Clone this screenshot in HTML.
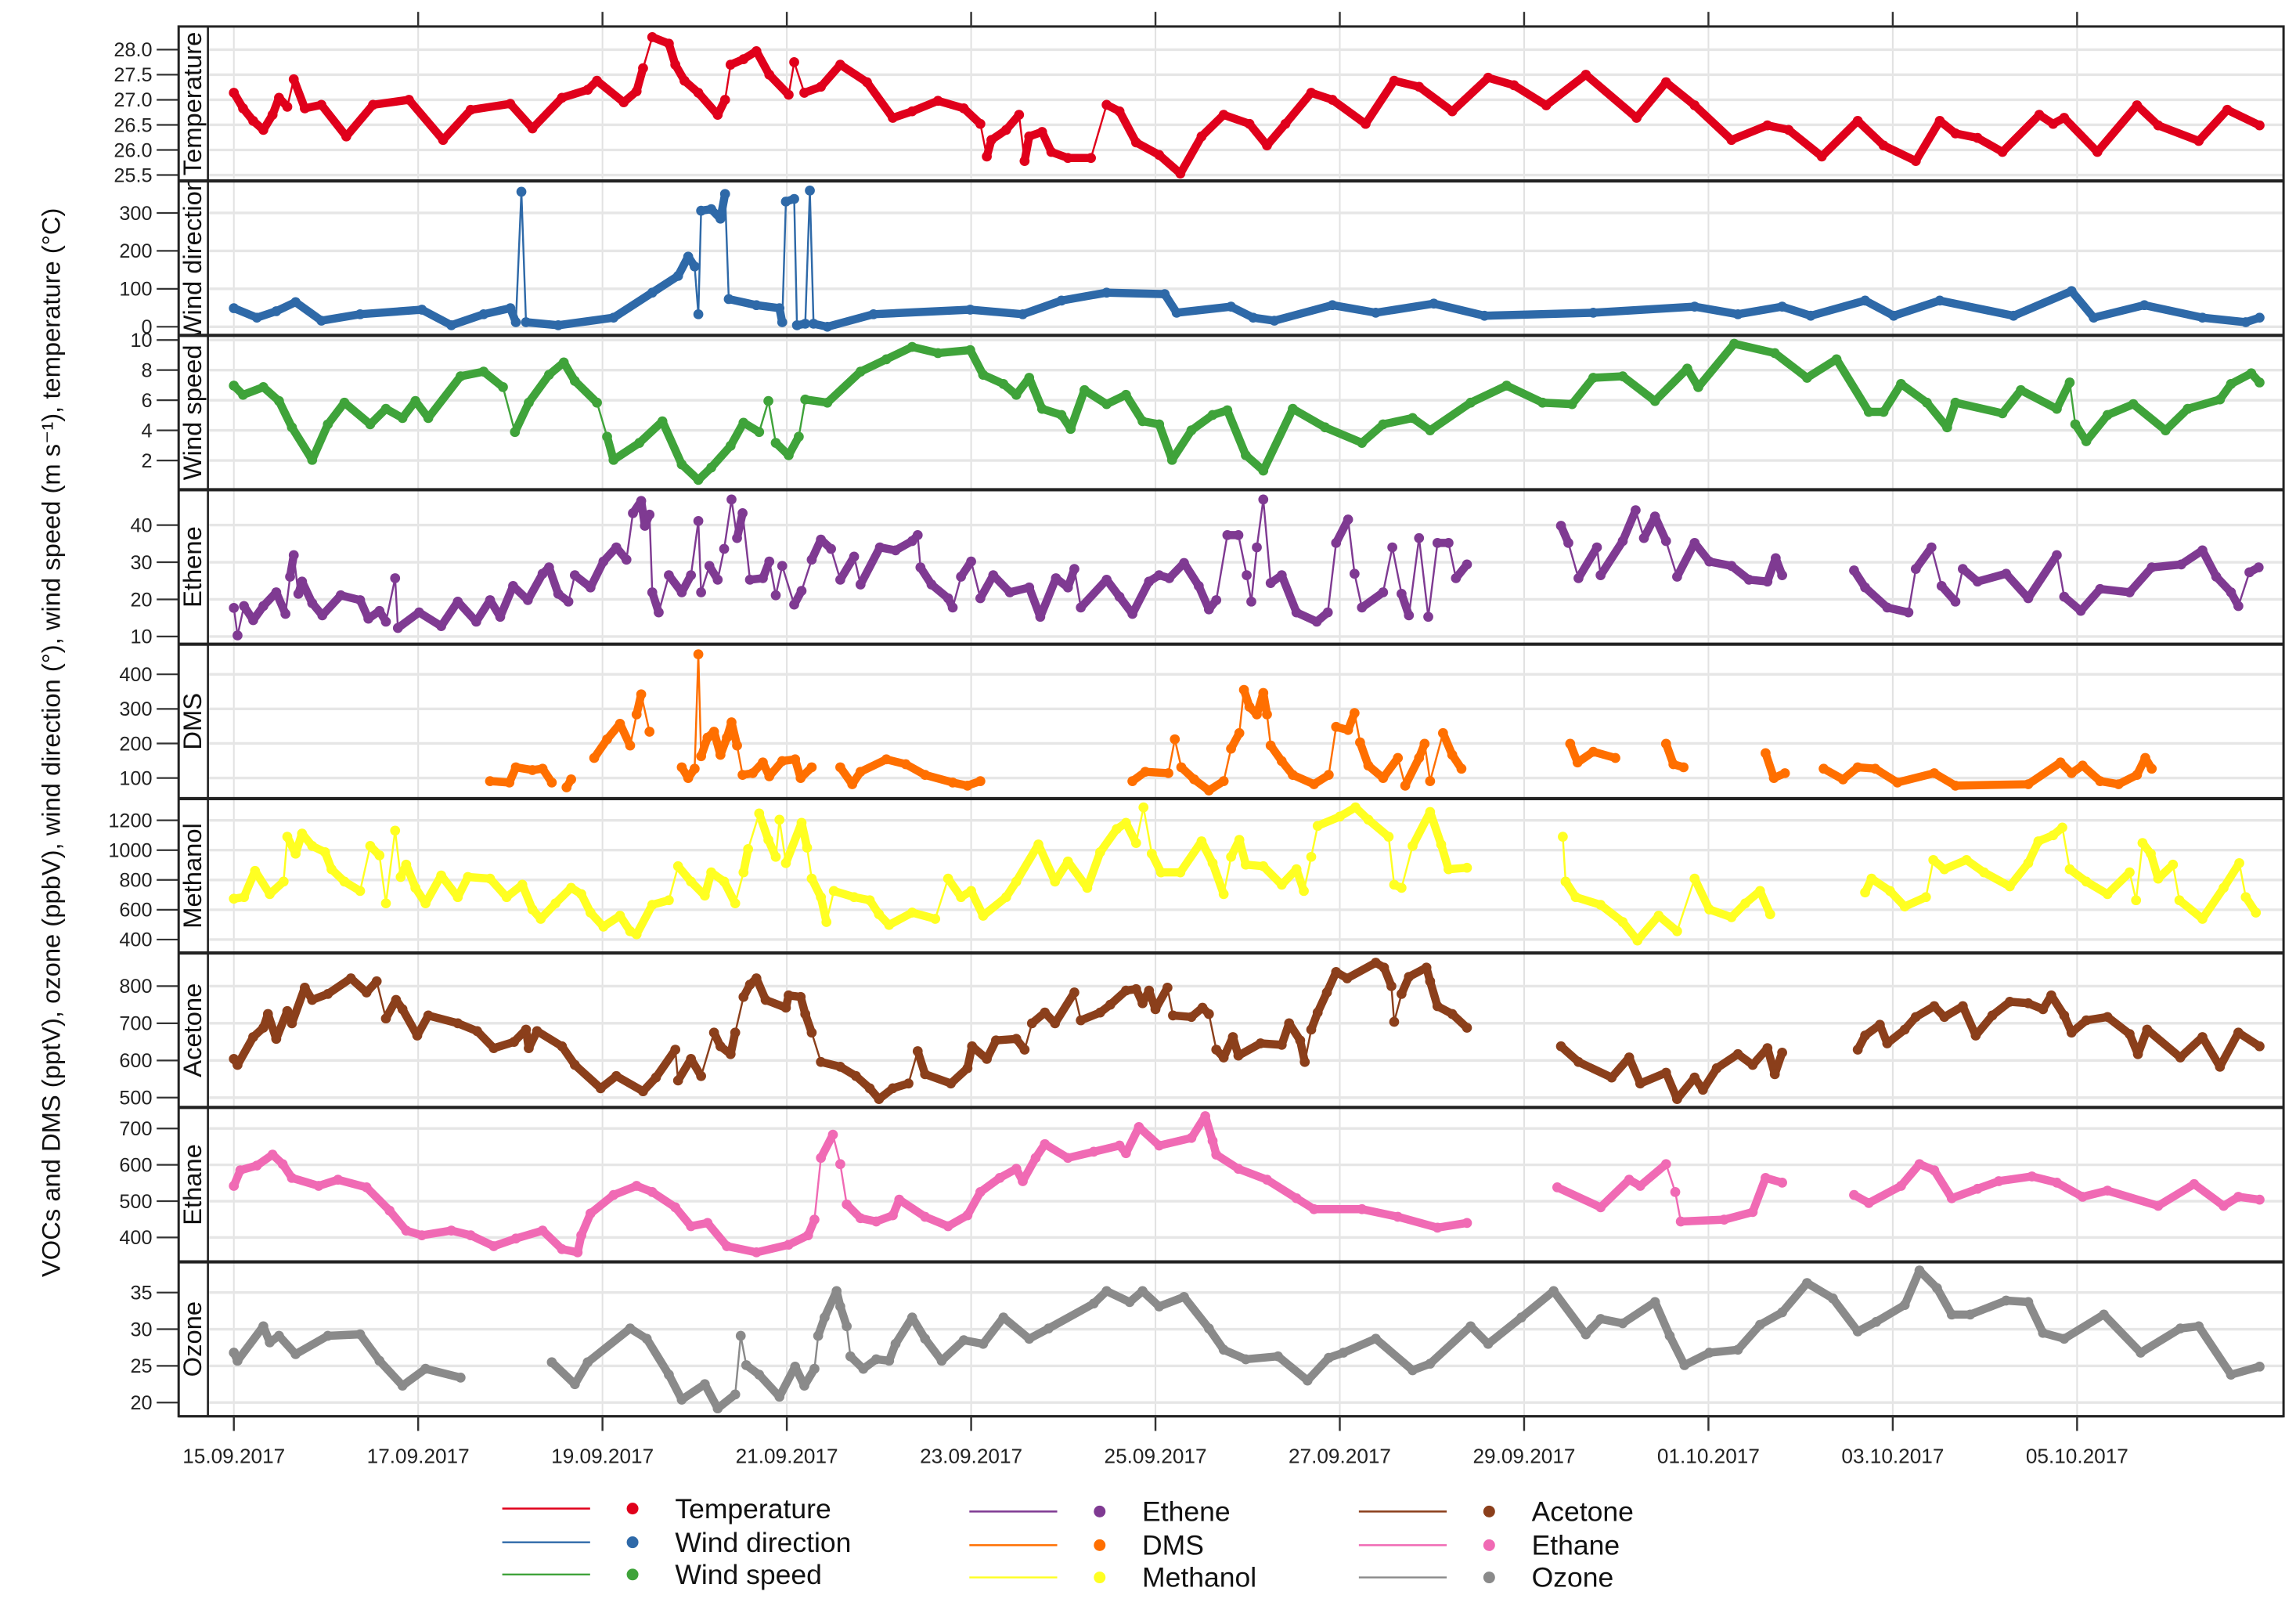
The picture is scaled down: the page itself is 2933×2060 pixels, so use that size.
<!DOCTYPE html>
<html><head><meta charset="utf-8"><style>
html,body{margin:0;padding:0;background:#fff}
svg{display:block}
text{font-family:"Liberation Sans",Arial,sans-serif}
</style></head><body>
<svg id="chart" xmlns="http://www.w3.org/2000/svg" width="2933" height="2060" viewBox="0 0 1568 1101.3" preserveAspectRatio="none">
<rect x="0" y="0" width="1568" height="1101.3" fill="#fff"/>
<text transform="translate(41,507) rotate(-90)" text-anchor="middle" font-size="17.5" fill="#111">VOCs and DMS (pptV), ozone (ppbV), wind direction (°), wind speed (m s⁻¹), temperature (°C)</text>
<g id="grid"></g><g id="marks"></g><g id="frame"></g><g id="legend"></g>
</svg>
<script>
// ---- data (day offset since 15.09.2017 00:00, value); null = gap ----
const dateLabels = ["15.09.2017","17.09.2017","19.09.2017","21.09.2017","23.09.2017","25.09.2017","27.09.2017","29.09.2017","01.10.2017","03.10.2017","05.10.2017"];
const dateTickDays = [0,2,4,6,8,10,12,14,16,18,20];

const tempDays = [0,0.1,0.21,0.32,0.42,0.49,0.58,0.65,0.77,0.95,1.22,1.51,1.9,2.27,2.57,3.0,3.24,3.56,3.84,3.94,4.23,4.37,4.44,4.54,4.72,4.79,4.89,5.04,5.25,5.33,5.39,5.53,5.67,5.81,6.02,6.08,6.19,6.37,6.58,6.87,7.15,7.36,7.64,7.92,8.1,8.17,8.22,8.38,8.52,8.58,8.63,8.77,8.87,9.05,9.3,9.47,9.61,9.79,10.04,10.27,10.5,10.74,11.02,11.21,11.41,11.69,11.92,12.28,12.59,12.86,13.22,13.61,13.89,14.24,14.67,15.22,15.54,15.85,16.25,16.64,16.87,17.23,17.62,17.9,18.25,18.51,18.68,18.92,19.19,19.59,19.74,19.86,20.22,20.65,20.88,21.32,21.63,21.98];
const tempVals = [27.14,26.83,26.58,26.4,26.7,27.04,26.86,27.41,26.83,26.9,26.27,26.9,27.0,26.2,26.8,26.92,26.43,27.04,27.2,27.38,26.95,27.17,27.63,28.25,28.12,27.7,27.38,27.14,26.7,27.0,27.7,27.81,27.97,27.5,27.1,27.75,27.14,27.26,27.7,27.35,26.64,26.77,26.98,26.83,26.52,25.87,26.2,26.4,26.7,25.78,26.27,26.36,25.96,25.84,25.84,26.9,26.77,26.15,25.9,25.53,26.27,26.7,26.52,26.09,26.52,27.14,27.0,26.52,27.38,27.26,26.77,27.44,27.29,26.89,27.5,26.64,27.35,26.89,26.2,26.49,26.4,25.87,26.58,26.09,25.78,26.58,26.33,26.24,25.96,26.7,26.52,26.64,25.96,26.89,26.49,26.18,26.8,26.49];

const wdDays = [0,0.25,0.46,0.67,0.95,1.37,2.04,2.36,2.71,3.0,3.06,3.12,3.17,3.52,4.12,4.54,4.82,4.93,5.0,5.04,5.07,5.18,5.28,5.33,5.37,5.67,5.92,5.95,5.99,6.08,6.11,6.2,6.25,6.29,6.44,6.94,7.99,8.56,8.98,9.47,10.1,10.23,10.82,11.06,11.29,11.92,12.39,13.02,13.57,14.75,15.85,16.32,16.8,17.11,17.7,18.01,18.51,19.31,19.94,20.18,20.73,21.36,21.83,21.98];
const wdVals = [49,24,41,65,16,33,45,4,33,49,12,356,12,4,24,90,134,185,159,33,306,310,285,350,73,57,49,12,330,337,4,8,359,8,0,33,45,33,69,90,86,37,53,24,16,57,37,61,29,37,53,33,53,29,69,29,69,29,94,24,57,24,12,24];

const wsDays = [0,0.1,0.32,0.49,0.63,0.85,1.02,1.2,1.48,1.65,1.83,1.97,2.11,2.46,2.71,2.92,3.05,3.2,3.42,3.58,3.7,3.94,4.05,4.12,4.4,4.65,4.86,5.04,5.18,5.39,5.53,5.7,5.8,5.88,6.02,6.13,6.2,6.44,6.8,7.08,7.36,7.64,7.99,8.13,8.35,8.49,8.63,8.77,8.98,9.08,9.23,9.47,9.68,9.86,10.04,10.18,10.39,10.62,10.78,10.98,11.17,11.49,11.84,12.24,12.47,12.79,12.98,13.42,13.81,14.2,14.52,14.75,15.07,15.42,15.77,15.89,16.28,16.72,17.07,17.39,17.74,17.9,18.09,18.37,18.59,18.68,19.19,19.39,19.78,19.92,19.98,20.1,20.33,20.61,20.96,21.2,21.55,21.67,21.89,21.98];
const wsVals = [6.97,6.36,6.87,5.95,4.2,2.04,4.4,5.84,4.4,5.43,4.82,5.95,4.82,7.59,7.9,6.87,3.89,5.84,7.69,8.51,7.28,5.84,3.58,2.04,3.17,4.6,1.74,0.71,1.53,2.97,4.51,3.89,5.95,3.17,2.35,3.58,6.05,5.84,7.9,8.72,9.54,9.13,9.33,7.69,7.08,6.36,7.49,5.43,5.02,4.1,6.67,5.74,6.36,4.61,4.4,2.04,4.0,5.02,5.33,2.35,1.33,5.43,4.2,3.17,4.4,4.82,4.0,5.84,6.97,5.84,5.74,7.49,7.59,5.95,8.1,6.87,9.75,9.13,7.49,8.72,5.23,5.23,7.08,5.84,4.2,5.84,5.13,6.67,5.43,7.18,4.4,3.28,5.02,5.74,4.0,5.43,6.05,7.08,7.79,7.18];

const etheneDays = [0,0.04,0.11,0.21,0.32,0.46,0.56,0.61,0.65,0.7,0.74,0.85,0.96,1.16,1.37,1.46,1.58,1.65,1.75,1.78,2.01,2.25,2.43,2.63,2.78,2.89,3.03,3.19,3.35,3.42,3.52,3.63,3.7,3.87,4.01,4.15,4.26,4.33,4.42,4.46,4.51,4.54,4.61,4.72,4.86,4.96,5.04,5.07,5.16,5.25,5.32,5.4,5.46,5.52,5.6,5.74,5.81,5.88,5.95,6.08,6.16,6.27,6.37,6.48,6.58,6.73,6.8,7.01,7.18,7.36,7.42,7.45,7.57,7.75,7.8,7.89,8.0,8.1,8.24,8.42,8.63,8.75,8.92,9.05,9.12,9.19,9.47,9.61,9.75,9.93,10.04,10.15,10.31,10.47,10.58,10.66,10.78,10.9,10.99,11.04,11.1,11.17,11.25,11.37,11.53,11.75,11.87,11.96,12.09,12.16,12.24,12.47,12.57,12.67,12.75,12.86,12.96,13.06,13.18,13.26,13.38,null,14.4,14.48,14.59,14.79,14.83,15.07,15.21,15.3,15.42,15.54,15.66,15.85,16.01,16.25,16.44,16.64,16.73,16.8,null,17.58,17.7,17.94,18.17,18.25,18.42,18.53,18.68,18.76,18.92,19.23,19.47,19.78,19.86,20.04,20.25,20.57,20.81,21.13,21.36,21.51,21.67,21.75,21.87,21.97];
const etheneVals = [17.7,10.3,18.2,14.4,18.2,21.9,16.1,26.1,31.9,21.5,24.8,19.0,15.7,21.1,19.8,14.8,16.9,14.0,25.7,12.3,16.5,12.8,19.4,14.0,19.8,15.3,23.6,19.8,26.9,28.6,21.5,19.4,26.5,23.2,30.2,34.0,30.7,43.2,46.5,39.8,42.8,21.9,16.5,26.5,21.9,26.5,41.1,21.9,29.0,25.3,33.6,46.9,36.5,43.2,25.3,25.7,30.2,21.1,29.0,18.6,22.3,30.7,36.1,33.6,25.3,31.5,24.0,34.0,33.2,35.7,37.3,28.6,24.0,20.3,17.8,26.1,30.2,20.3,26.5,21.9,23.2,15.3,25.7,23.2,28.2,17.8,25.3,20.7,16.1,24.8,26.5,25.7,29.8,23.6,17.3,19.8,37.3,37.3,26.5,19.4,34.0,46.9,24.4,26.5,16.5,14.0,16.5,35.2,41.5,26.9,17.8,21.9,34.0,21.5,15.7,36.5,15.3,35.2,35.2,25.7,29.4,null,39.8,35.2,25.7,34.0,26.5,35.7,44.0,36.5,42.3,35.7,26.1,35.2,30.2,29.0,25.3,24.8,31.1,26.5,null,27.8,23.2,17.8,16.5,28.2,34.0,23.6,19.4,28.2,24.8,26.9,20.3,31.9,20.7,16.9,22.8,21.9,28.6,29.4,33.2,26.1,21.9,18.2,27.3,28.6];

const dmsDays = [2.78,2.99,3.06,3.24,3.35,3.45,null,3.61,3.66,null,3.91,4.05,4.19,4.3,4.37,4.42,4.51,null,4.86,4.93,5.0,5.04,5.07,5.14,5.21,5.28,5.35,5.4,5.46,5.52,5.63,5.74,5.81,5.95,6.09,6.15,6.27,null,6.58,6.71,6.8,7.08,7.29,7.5,7.8,7.96,8.1,null,9.75,9.89,10.14,10.21,10.28,10.42,10.58,10.74,10.82,10.91,10.96,11.02,11.1,11.17,11.21,11.25,11.37,11.49,11.72,11.88,11.96,12.09,12.16,12.22,12.31,12.47,12.63,12.71,12.86,12.92,12.98,13.12,13.22,13.32,null,14.5,14.58,14.75,14.99,null,15.54,15.62,15.73,null,16.62,16.71,16.83,null,17.25,17.46,17.62,17.81,18.05,18.45,18.68,19.47,19.82,19.94,20.06,20.25,20.45,20.65,20.74,20.81];
const dmsVals = [91,87,131,123,127,87,null,73,96,null,158,212,257,194,284,342,234,null,131,100,127,458,163,217,234,167,217,261,194,109,114,145,105,149,154,100,131,null,131,82,118,154,140,109,87,78,91,null,91,118,114,212,131,96,64,91,185,230,355,306,284,346,284,194,149,109,82,109,248,239,288,203,136,100,158,78,158,199,91,230,167,127,null,199,145,176,158,null,199,140,131,null,172,100,114,null,127,96,131,127,87,114,78,82,145,114,136,91,82,109,158,127];

const methDays = [0,0.11,0.23,0.39,0.54,0.58,0.67,0.74,0.85,0.99,1.06,1.2,1.37,1.48,1.58,1.65,1.75,1.81,1.87,1.97,2.08,2.25,2.43,2.54,2.78,2.96,3.13,3.24,3.33,3.49,3.66,3.77,3.87,4.01,4.19,4.3,4.37,4.54,4.72,4.82,4.96,5.11,5.18,5.32,5.44,5.53,5.58,5.7,5.8,5.88,5.92,5.99,6.16,6.22,6.27,6.37,6.43,6.51,6.73,6.9,7.0,7.11,7.36,7.61,7.75,7.89,8.0,8.13,8.38,8.49,8.73,8.91,9.05,9.26,9.4,9.58,9.68,9.79,9.87,9.96,10.06,10.27,10.5,10.62,10.74,10.82,10.91,10.98,11.17,11.37,11.53,11.61,11.69,11.76,12.0,12.17,12.31,12.53,12.59,12.67,12.79,12.98,13.1,13.18,13.38,null,14.42,14.45,14.56,14.83,15.07,15.23,15.46,15.66,15.85,16.01,16.25,16.4,16.56,16.67,null,17.7,17.77,17.97,18.13,18.36,18.44,18.56,18.8,18.99,19.27,19.47,19.58,19.74,19.84,19.92,20.1,20.33,20.57,20.64,20.71,20.8,20.88,21.04,21.11,21.36,21.59,21.76,21.83,21.94];
const methVals = [674,685,861,705,789,1090,976,1111,1028,986,872,789,726,1028,965,643,1131,820,903,747,643,830,685,820,809,685,768,602,539,643,747,705,581,487,560,456,435,633,664,892,789,695,851,789,643,851,1007,1246,1069,955,1204,913,1183,1017,809,685,518,726,685,664,570,498,581,539,809,685,726,560,685,789,1038,789,924,747,986,1142,1183,1048,1287,976,851,851,1059,913,705,955,1069,903,892,768,872,726,955,1163,1225,1287,1204,1090,768,747,1028,1256,1038,872,882,null,1090,789,685,633,518,394,560,456,809,602,550,643,726,570,null,716,809,726,622,685,934,872,934,851,757,913,1059,1100,1152,872,789,705,851,664,1048,976,809,903,664,539,747,913,685,581];

const acetDays = [0,0.04,0.21,0.32,0.37,0.46,0.58,0.63,0.77,0.85,1.02,1.27,1.44,1.55,1.65,1.76,1.83,1.99,2.11,2.43,2.64,2.82,3.04,3.17,3.2,3.29,3.56,3.7,3.98,4.15,4.44,4.58,4.79,4.82,4.96,5.07,5.21,5.28,5.39,5.44,5.53,5.6,5.67,5.77,5.99,6.02,6.15,6.2,6.27,6.37,6.58,6.75,6.9,7.0,7.15,7.32,7.42,7.5,7.78,7.96,8.01,8.17,8.27,8.49,8.58,8.66,8.8,8.91,9.12,9.19,9.4,9.51,9.68,9.79,9.86,9.93,10.0,10.13,10.19,10.39,10.51,10.58,10.66,10.74,10.84,10.9,11.14,11.37,11.45,11.57,11.62,11.69,11.76,11.86,11.96,12.08,12.39,12.48,12.56,12.59,12.67,12.75,12.94,12.98,13.06,13.22,13.38,null,14.4,14.59,14.95,15.14,15.26,15.54,15.66,15.85,15.94,16.09,16.32,16.48,16.64,16.72,16.8,null,17.62,17.7,17.86,17.94,18.13,18.25,18.45,18.56,18.76,18.9,19.08,19.27,19.47,19.63,19.72,19.86,19.94,20.1,20.33,20.57,20.66,20.76,21.12,21.36,21.55,21.75,21.98];
const acetVals = [604,588,663,688,725,658,733,700,796,763,779,821,783,813,713,763,738,667,721,700,679,633,650,683,633,679,638,588,525,558,517,554,629,546,604,558,675,638,617,675,771,804,821,763,742,775,771,725,675,596,583,558,525,496,525,538,625,563,538,579,638,604,654,658,629,700,729,700,783,708,729,750,788,792,754,788,738,796,721,717,742,725,629,608,663,613,646,642,700,654,596,683,729,783,838,821,863,850,800,704,779,825,850,813,746,725,688,null,638,596,554,608,538,567,496,554,521,579,617,588,633,563,621,null,629,667,696,646,683,717,746,717,746,667,721,758,754,738,775,721,675,708,717,671,617,683,608,663,583,675,638];

const ethaDays = [0,0.07,0.25,0.42,0.53,0.63,0.92,1.13,1.44,1.69,1.87,2.04,2.36,2.57,2.82,3.06,3.35,3.56,3.73,3.77,3.87,4.12,4.37,4.54,4.79,4.96,5.14,5.35,5.67,6.02,6.23,6.3,6.37,6.5,6.58,6.65,6.8,6.97,7.15,7.22,7.5,7.75,7.96,8.1,8.31,8.49,8.56,8.7,8.8,9.05,9.33,9.61,9.68,9.82,10.04,10.39,10.54,10.62,10.66,10.9,11.21,11.53,11.72,12.24,12.63,13.06,13.38,null,14.36,14.83,15.14,15.26,15.54,15.64,15.7,16.17,16.48,16.62,16.8,null,17.58,17.74,18.09,18.29,18.45,18.64,18.92,19.15,19.51,19.78,20.06,20.33,20.88,21.27,21.59,21.75,21.98];
const ethaVals = [542,585,598,628,602,564,542,559,538,474,419,406,419,406,376,397,419,368,359,406,466,517,542,525,483,431,440,376,359,380,406,449,619,683,602,491,453,444,461,504,457,431,461,525,564,589,555,619,657,619,636,653,632,704,653,674,734,666,628,589,559,508,478,478,457,427,440,null,538,483,559,542,602,525,444,449,470,564,551,null,517,495,542,602,585,508,534,555,568,551,512,529,487,547,487,512,504];

const ozoneDays = [0,0.04,0.32,0.39,0.49,0.67,1.02,1.37,1.58,1.83,2.08,2.46,null,3.45,3.7,3.84,4.3,4.48,4.72,4.86,5.11,5.25,5.44,5.5,5.56,5.7,5.92,6.09,6.19,6.3,6.34,6.41,6.54,6.58,6.65,6.69,6.83,6.97,7.11,7.18,7.36,7.5,7.68,7.92,8.13,8.35,8.63,8.84,9.33,9.47,9.72,9.86,10.04,10.31,10.58,10.74,10.98,11.33,11.65,11.88,12.04,12.39,12.79,12.98,13.42,13.61,13.97,14.32,14.67,14.83,15.07,15.42,15.58,15.74,16.01,16.32,16.56,16.8,17.07,17.35,17.62,17.82,18.13,18.29,18.48,18.64,18.84,19.23,19.47,19.63,19.86,20.29,20.69,21.12,21.32,21.67,21.98];
const ozoneVals = [26.8,25.7,30.4,28.2,29.1,26.6,29.1,29.3,25.7,22.3,24.6,23.4,null,25.5,22.5,25.5,30.1,28.7,23.8,20.4,22.5,19.2,21.1,29.1,25.1,23.8,20.8,24.9,22.3,24.6,29.1,31.6,35.2,33.1,30.4,26.3,24.6,25.9,25.7,28.0,31.6,28.7,25.7,28.5,28.0,31.6,28.7,30.1,33.5,35.2,33.7,35.2,33.1,34.4,30.1,27.2,25.9,26.3,23.0,26.1,26.8,28.7,24.4,25.3,30.4,28.0,31.6,35.2,29.3,31.4,30.8,33.7,29.1,25.1,26.8,27.2,30.6,32.3,36.3,34.2,29.7,31.0,33.3,38.0,35.6,32.0,32.0,33.9,33.7,29.5,28.7,32.0,26.8,30.1,30.4,23.8,24.9];

const panelStripText = ["Temperature","Wind direction","Wind speed","Ethene","DMS","Methanol","Acetone","Ethane","Ozone"];
const tickTemp = [25.5,26.0,26.5,27.0,27.5,28.0];
const tickWd = [0,100,200,300];
const tickWs = [2,4,6,8,10];
const tickEthene = [10,20,30,40];
const tickDms = [100,200,300,400];
const tickMeth = [400,600,800,1000,1200];
const tickAcet = [500,600,700,800];
const tickEtha = [400,500,600,700];
const tickOzone = [20,25,30,35];

// ---- layout ----
const NS = "http://www.w3.org/2000/svg";
const X0 = 159.7, DAYW = 62.94, FL = 122, SR = 142, FR = 1559.5;
const PT = 18.1, PH = 105.43;
function xs(d){ return X0 + d*DAYW; }
function mk(tag, attrs, parent){ const e=document.createElementNS(NS,tag); for(const k in attrs) e.setAttribute(k,attrs[k]); parent.appendChild(e); return e; }

const panels = [
  {days:tempDays, vals:tempVals, ticks:tickTemp, fmt:v=>v.toFixed(1), v1:28.0,y1:33.9,v2:25.5,y2:119.5, color:"#e0001b", key:"temperature"},
  {days:wdDays, vals:wdVals, ticks:tickWd, fmt:v=>String(v), v1:300,y1:145.4,v2:0,y2:223.1, color:"#2e69a8", key:"wind-direction"},
  {days:wsDays, vals:wsVals, ticks:tickWs, fmt:v=>String(v), v1:8,y1:252.7,v2:2,y2:314.4, color:"#3fa33a", key:"wind-speed"},
  {days:etheneDays, vals:etheneVals, ticks:tickEthene, fmt:v=>String(v), v1:40,y1:358.5,v2:10,y2:434.6, color:"#7f3a92", key:"ethene"},
  {days:dmsDays, vals:dmsVals, ticks:tickDms, fmt:v=>String(v), v1:400,y1:460.4,v2:100,y2:531.2, color:"#ff6f00", key:"dms"},
  {days:methDays, vals:methVals, ticks:tickMeth, fmt:v=>String(v), v1:1200,y1:560.1,v2:400,y2:641.5, color:"#ffff22", key:"methanol"},
  {days:acetDays, vals:acetVals, ticks:tickAcet, fmt:v=>String(v), v1:800,y1:673.3,v2:500,y2:749.4, color:"#8b3f1b", key:"acetone"},
  {days:ethaDays, vals:ethaVals, ticks:tickEtha, fmt:v=>String(v), v1:700,y1:770.5,v2:400,y2:844.9, color:"#f06ab4", key:"ethane"},
  {days:ozoneDays, vals:ozoneVals, ticks:tickOzone, fmt:v=>String(v), v1:35,y1:882.5,v2:20,y2:957.6, color:"#8a8a8a", key:"ozone"}
];

const grid = document.getElementById("grid");
const marks = document.getElementById("marks");
const frame = document.getElementById("frame");
const svg = document.getElementById("chart");
const defs = mk("defs",{},svg);

panels.forEach((p,i)=>{
  const top = PT + i*PH, bot = top + PH;
  const ys = v => p.y1 + (v - p.v1)*(p.y2 - p.y1)/(p.v2 - p.v1);
  const cp = mk("clipPath",{id:"clip"+i},defs);
  mk("rect",{x:SR,y:top,width:FR-SR,height:PH},cp);
  const cs = mk("clipPath",{id:"clips"+i},defs);
  mk("rect",{x:FL,y:top+1,width:SR-FL,height:PH-2},cs);
  dateTickDays.forEach(d=>{
    const l = mk("line",{x1:xs(d),x2:xs(d),y1:top,y2:bot,stroke:"#e2e2e2","stroke-width":1.1},grid);
    
    
  });
  p.ticks.forEach(v=>{
    const y = ys(v);
    if (y>top-0.5 && y<bot+0.5){
      const g = mk("line",{x1:SR,x2:FR,y1:y,y2:y,stroke:"#e6e6e6","stroke-width":1.8},grid);
      
      
    }
    const t = mk("line",{x1:107,x2:FL,y1:y,y2:y,stroke:"#333","stroke-width":1.2},frame);
    
    
    const lab = mk("text",{x:104,y:y+4.7,"text-anchor":"end","font-size":13.5,fill:"#222"},frame);
    lab.textContent = p.fmt(v);
    
    
  });
  const g = mk("g",{"clip-path":"url(#clip"+i+")"},marks);
  
  
  const n = Math.min(p.days.length,p.vals.length);
  let prev = null;
  for(let k=0;k<n;k++){
    const d=p.days[k], v=p.vals[k];
    if(d===null||v===null){ prev=null; continue; }
    const pt=[xs(d),ys(v)];
    if(prev){
      const dx = Math.abs(pt[0]-prev[0]), dy = Math.abs(pt[1]-prev[1]);
      const steep = dy > 18 && dy > 3*dx;
      const seg = mk("line",{x1:prev[0],y1:prev[1],x2:pt[0],y2:pt[1],stroke:p.color,"stroke-width":steep?1.3:5.6,"stroke-linecap":"round"},g);
      
      
    }
    prev=pt;
  }
  for(let k=0;k<n;k++){
    const d=p.days[k], v=p.vals[k];
    if(d===null||v===null) continue;
    const c = mk("circle",{cx:xs(d),cy:ys(v),r:3.4,fill:p.color},g);
    
    
  }
  const sg = mk("g",{"clip-path":"url(#clips"+i+")"},frame);
  
  
  const st = mk("text",{transform:"translate("+(SR-4.5)+","+(top+PH/2)+") rotate(-90)","text-anchor":"middle","font-size":17.5,fill:"#111"},sg);
  st.textContent = panelStripText[i];
  
  
  const sep = mk("line",{x1:FL,x2:FR,y1:bot,y2:bot,stroke:"#222","stroke-width":i===8?1.6:2.2},frame);
  
  
});
const fr = mk("rect",{x:FL,y:PT,width:FR-FL,height:9*PH,fill:"none",stroke:"#222","stroke-width":1.6},frame);


const sl = mk("line",{x1:SR,x2:SR,y1:PT,y2:PT+9*PH,stroke:"#222","stroke-width":1.4},frame);


const bottom = PT+9*PH;
dateTickDays.forEach((d,k)=>{
  const t1 = mk("line",{x1:xs(d),x2:xs(d),y1:bottom,y2:bottom+10,stroke:"#333","stroke-width":1.3},frame);
  
  
  if(k>0){
    const t2 = mk("line",{x1:xs(d),x2:xs(d),y1:PT-10,y2:PT,stroke:"#333","stroke-width":1.3},frame);
    
    
  }
  const lab = mk("text",{x:xs(d),y:bottom+32,"text-anchor":"middle","font-size":14,fill:"#222"},frame);
  lab.textContent = dateLabels[k];
  
  
});
const legendNames = ["Temperature","Wind direction","Wind speed","Ethene","DMS","Methanol","Acetone","Ethane","Ozone"];
const legend = document.getElementById("legend");
const colX = [343,662,928], rowY = [1030,1053,1075];
legendNames.forEach((nm,k)=>{
  const c = Math.floor(k/3), r = k%3;
  const x = colX[c], y = rowY[r] + (c>0?2:0);
  const g = mk("g",{},legend);
  
  
  mk("line",{x1:x,x2:x+60,y1:y,y2:y,stroke:panels[k].color,"stroke-width":1.3},g);
  mk("circle",{cx:x+89,cy:y,r:4,fill:panels[k].color},g);
  const t = mk("text",{x:x+118,y:y+6.5,"font-size":19,fill:"#111"},g);
  t.textContent = nm;
});
</script>
</body></html>
